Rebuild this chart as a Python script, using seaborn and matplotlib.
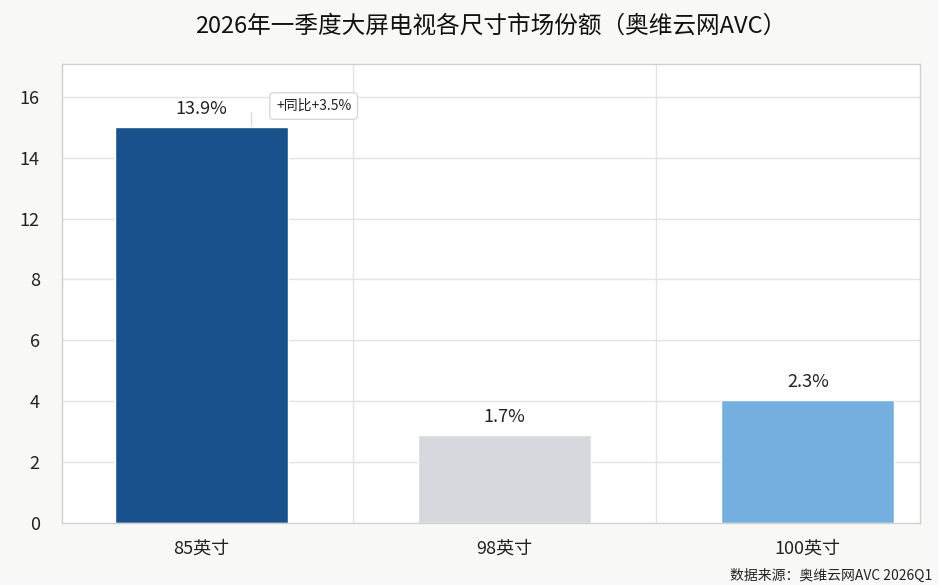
import numpy as np
import matplotlib.pyplot as plt
import seaborn as sns
import pandas as pd

sizes = ['85英寸', '98英寸', '100英寸']
heights = [13.02, 2.9, 4.03]
share_labels = ['13.9%', '1.7%', '2.3%']
bar_colors = ['#19518c', '#d5d9de', '#74afe0']
ytick_pos = [0, 2, 4, 6, 8, 10, 12, 14]
ytick_labels = ['0', '2', '4', '6', '8', '12', '14', '16']
yoy_note = '+同比+3.5%'

df = pd.DataFrame({'size': sizes, 'height': heights})

sns.set_theme(style='white')
plt.rcParams['font.family'] = ['Noto Sans CJK SC', 'DejaVu Sans']

fig = plt.figure(figsize=(9.39, 5.85), dpi=100, facecolor='#f8f8f6')
ax = fig.add_axes([62 / 939, 1 - 523 / 585, (920 - 62) / 939, (523 - 64) / 585])
ax.set_facecolor('white')

sns.barplot(data=df, x='size', y='height', hue='size', palette=bar_colors,
            width=0.57, legend=False, ax=ax, saturation=1)

# grid
for y in ytick_pos[1:]:
    ax.axhline(y, color='#e3e3e3', lw=1, zorder=0)
for x in [0.5, 1.5]:
    ax.axvline(x, color='#e3e3e3', lw=1, zorder=0)

ax.set_xlim(-0.46, 2.37)
ax.set_ylim(0, 15.08)
ax.set_yticks(ytick_pos)
ax.set_yticklabels(ytick_labels, fontsize=13, color='#222222')
ax.tick_params(axis='x', labelsize=13, colors='#222222', pad=12, length=0)
ax.tick_params(axis='y', pad=16, length=0)
ax.set_xlabel('')
ax.set_ylabel('')
for s in ax.spines.values():
    s.set_color('#d0d0d0')
    s.set_linewidth(1)

for i, (h, lab) in enumerate(zip(heights, share_labels)):
    ax.text(i, h + 0.3, lab, ha='center', va='bottom', fontsize=13, color='#222222')

# yoy note
ax.plot([0.165, 0.165], [13.05, 13.5], color='#dddddd', lw=1)
ax.text(0.37, 13.7, yoy_note, ha='center', va='center', fontsize=10, color='#222222',
        bbox=dict(boxstyle='round,pad=0.45,rounding_size=0.3', fc='white', ec='#d8d8d8', lw=1))

fig.text(491 / 939, 1 - 26 / 585, '2026年一季度大屏电视各尺寸市场份额（奥维云网AVC）',
         ha='center', va='center', fontsize=17, color='#111111')
fig.text(1 - 7 / 939, 1 - 576 / 585, '数据来源：奥维云网AVC 2026Q1',
         ha='right', va='center', fontsize=10, color='#222222')

fig.savefig('out.png', dpi=100, facecolor=fig.get_facecolor())
